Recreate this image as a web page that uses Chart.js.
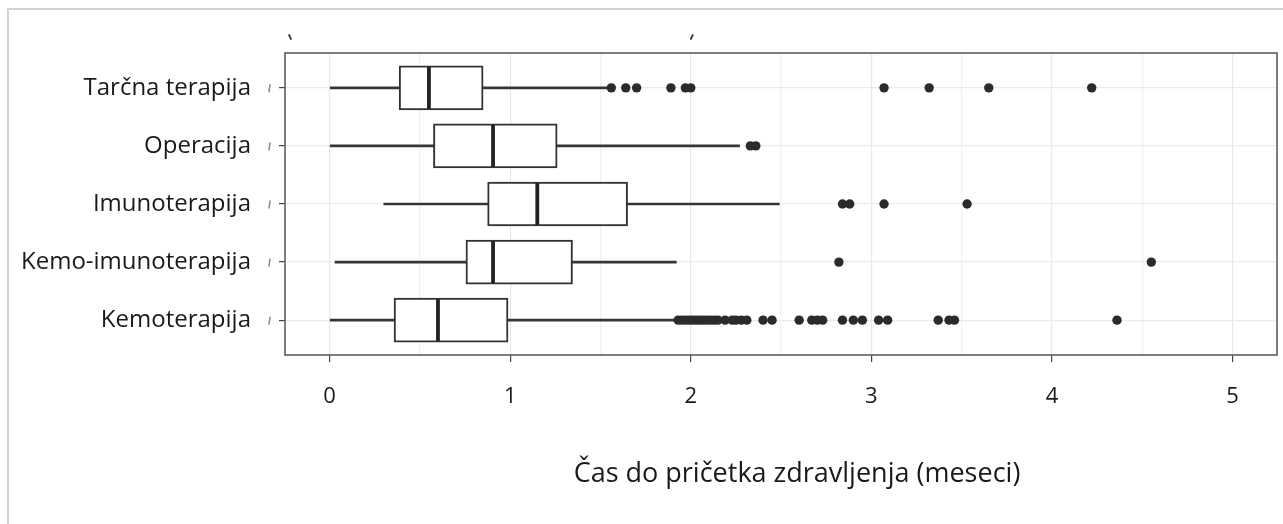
<!DOCTYPE html>
<html>
<head>
<meta charset="utf-8">
<script src="https://cdn.jsdelivr.net/npm/chart.js@4.4.1/dist/chart.umd.min.js"></script>
<style>
  html, body { margin: 0; padding: 0; background: #ffffff; }
  #wrap { width: 1283px; height: 524px; position: relative; }
</style>
</head>
<body>
<div id="wrap"><canvas id="c" width="1283" height="524"></canvas></div>
<script>
// Treatment groups, top to bottom
const categories = ['Tarčna terapija', 'Operacija', 'Imunoterapija', 'Kemo-imunoterapija', 'Kemoterapija'];

// Box-plot summary per group (months)
const whiskerLow  = [0.00, 0.00, 0.30, 0.03, 0.00];
const q1          = [0.385, 0.575, 0.875, 0.755, 0.357];
const median      = [0.55, 0.905, 1.15, 0.905, 0.60];
const q3          = [0.85, 1.26, 1.65, 1.345, 0.988];
const whiskerHigh = [1.54, 2.27, 2.49, 1.92, 1.92];

// Outlying observations per group
const outliersTarcna  = [1.56, 1.64, 1.70, 1.89, 1.97, 2.00, 3.07, 3.32, 3.65, 4.22];
const outliersOperac  = [2.33, 2.36];
const outliersImuno   = [2.84, 2.88, 3.07, 3.53];
const outliersKemoImu = [2.82, 4.55];
const outliersKemo    = [1.93, 1.95, 1.97, 1.99, 2.01, 2.03, 2.05, 2.07, 2.09, 2.11, 2.13, 2.15,
                         2.19, 2.23, 2.25, 2.28, 2.31, 2.40, 2.45, 2.60, 2.67, 2.70, 2.73,
                         2.84, 2.90, 2.95, 3.04, 3.09, 3.37, 3.43, 3.46, 4.36];
const outliers = [outliersTarcna, outliersOperac, outliersImuno, outliersKemoImu, outliersKemo];

// Axis ticks
const xTickValues  = [0, 1, 2, 3, 4, 5];
const xMinorValues = [0.5, 1.5, 2.5, 3.5, 4.5];
const xTitle = 'Čas do pričetka zdravljenja (meseci)';

const rowOf = i => i + 1;
const FONT = "'Open Sans', 'Noto Sans', sans-serif";

const outlierPoints = [];
outliers.forEach((list, i) => list.forEach(v => outlierPoints.push({ x: v, y: rowOf(i) })));

// Page frame, plot panel border, axis title and small marks
const decorations = {
  id: 'decorations',
  beforeDraw(chart) {
    const ctx = chart.ctx;
    ctx.save();
    ctx.fillStyle = '#ffffff';
    ctx.fillRect(0, 0, chart.width, chart.height);
    ctx.strokeStyle = '#d2d2d2';
    ctx.lineWidth = 2;
    ctx.beginPath();
    ctx.moveTo(8, chart.height);
    ctx.lineTo(8, 9);
    ctx.lineTo(chart.width, 9);
    ctx.stroke();
    ctx.restore();
  },
  afterDraw(chart) {
    const ctx = chart.ctx;
    const a = chart.chartArea;
    const xs = chart.scales.x, ys = chart.scales.y;
    ctx.save();
    // panel border
    ctx.strokeStyle = '#5e5e5e';
    ctx.lineWidth = 1.6;
    ctx.strokeRect(a.left, a.top, a.right - a.left, a.bottom - a.top);
    // small strokes above the panel
    ctx.strokeStyle = '#3a3a3a';
    ctx.lineWidth = 1.8;
    ctx.lineCap = 'round';
    ctx.beginPath();
    ctx.moveTo(a.left + 4, a.top - 18); ctx.lineTo(a.left + 6, a.top - 14);
    const x2 = xs.getPixelForValue(2);
    ctx.moveTo(x2 + 2, a.top - 18); ctx.lineTo(x2, a.top - 14);
    ctx.stroke();
    // small strokes beside the category ticks
    ctx.strokeStyle = '#8a8a8a';
    ctx.lineWidth = 1.5;
    ctx.beginPath();
    categories.forEach((_, i) => {
      const y = ys.getPixelForValue(rowOf(i));
      ctx.moveTo(a.left - 15, y - 3); ctx.lineTo(a.left - 16, y + 4);
    });
    ctx.stroke();
    // axis title
    ctx.fillStyle = '#1a1a1a';
    ctx.font = "27px " + FONT;
    ctx.textAlign = 'center';
    ctx.textBaseline = 'alphabetic';
    ctx.fillText(xTitle, (a.left + a.right) / 2 + 16, 482);
    ctx.restore();
  }
};

new Chart(document.getElementById('c'), {
  type: 'bar',
  data: {
    datasets: [
      {
        type: 'scatter',
        data: outlierPoints,
        pointRadius: 4.7,
        pointBackgroundColor: '#2b2b2b',
        pointBorderWidth: 0
      },
      {
        type: 'scatter',
        data: median.map((m, i) => ({ x: m, y: rowOf(i) })),
        pointStyle: 'line',
        rotation: 90,
        pointRadius: 21,
        pointBorderColor: '#222222',
        pointBorderWidth: 3.8
      },
      {
        type: 'bar',
        data: q1.map((v, i) => ({ x: [v, q3[i]], y: rowOf(i) })),
        backgroundColor: '#ffffff',
        borderColor: '#333333',
        borderWidth: 2,
        borderSkipped: false,
        grouped: false,
        barThickness: 44,
        maxBarThickness: 44
      },
      {
        type: 'bar',
        data: whiskerLow.map((v, i) => ({ x: [v, whiskerHigh[i]], y: rowOf(i) })),
        backgroundColor: '#363636',
        borderWidth: 0,
        grouped: false,
        barThickness: 2,
        maxBarThickness: 2
      }
    ]
  },
  options: {
    indexAxis: 'y',
    responsive: false,
    devicePixelRatio: 1,
    animation: false,
    events: [],
    layout: { autoPadding: false, padding: { top: 53, right: 6, bottom: 0, left: 0 } },
    plugins: { legend: { display: false }, tooltip: { enabled: false } },
    scales: {
      x: {
        type: 'linear',
        position: 'bottom',
        min: -0.247,
        max: 5.246,
        offset: false,
        afterBuildTicks: s => { s.ticks = [...xTickValues, ...xMinorValues].sort((p, q) => p - q).map(v => ({ value: v })); },
        afterFit: s => { s.height = 169; },
        border: { display: false },
        grid: {
          offset: false,
          color: c => (c.tick && xTickValues.includes(c.tick.value)) ? '#e8e8e8' : '#f1f1f1',
          lineWidth: 1.2,
          tickColor: c => (c.tick && xTickValues.includes(c.tick.value)) ? '#444444' : 'rgba(0,0,0,0)',
          tickLength: 7,
          drawTicks: true
        },
        ticks: {
          autoSkip: false,
          maxRotation: 0,
          padding: 22,
          color: '#1a1a1a',
          font: { size: 22, family: FONT },
          callback: v => xTickValues.includes(v) ? String(v) : ''
        }
      },
      y: {
        type: 'linear',
        reverse: true,
        min: 0.4,
        max: 5.6,
        offset: false,
        afterBuildTicks: s => { s.ticks = categories.map((_, i) => ({ value: rowOf(i) })); },
        afterFit: s => { s.width = 285; },
        border: { display: false },
        grid: {
          offset: false,
          color: '#ebebeb',
          lineWidth: 1.2,
          tickColor: '#444444',
          tickLength: 6
        },
        ticks: {
          autoSkip: false,
          padding: 28,
          color: '#1a1a1a',
          font: { size: 24, family: FONT },
          callback: v => categories[v - 1]
        }
      }
    }
  },
  plugins: [decorations]
});
</script>
</body>
</html>
